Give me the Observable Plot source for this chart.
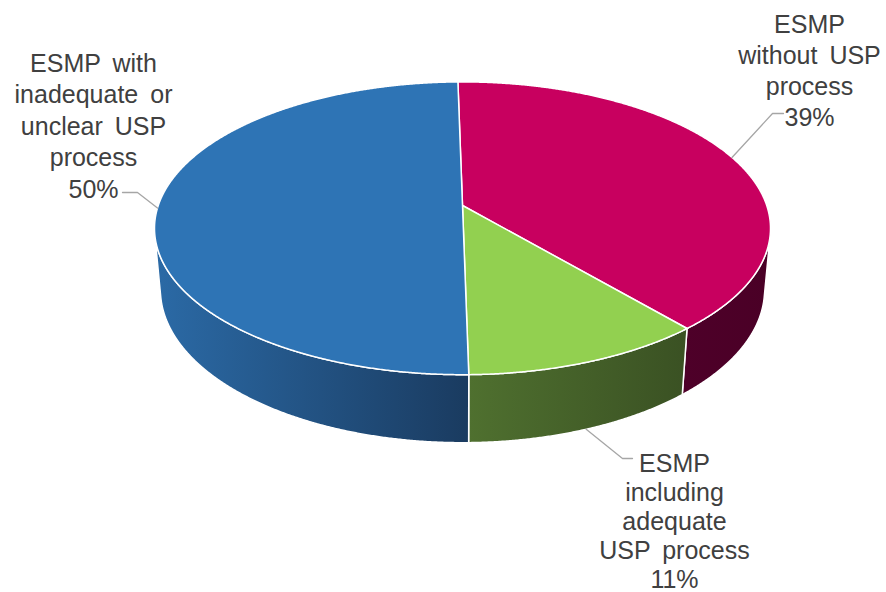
<!DOCTYPE html>
<html><head><meta charset="utf-8">
<script src="https://cdn.jsdelivr.net/npm/d3@7"></script>
<script src="https://cdn.jsdelivr.net/npm/@observablehq/plot@0.6"></script>
<style>html,body{margin:0;padding:0;background:#fff;} #chart svg{display:block} #chart text{word-spacing:5px}</style>
</head><body><div id="chart"></div>
<script>
// ---- data ----
const categories = ["ESMP without USP process", "ESMP including adequate USP process", "ESMP with inadequate or unclear USP process"];
const shares = [39, 11, 50];
const labelLines = [
  ["ESMP", "without USP", "process"],
  ["ESMP", "including", "adequate", "USP process"],
  ["ESMP with", "inadequate or", "unclear USP", "process"]
];
const topColors = ["#C8005F", "#92D050", "#2E74B5"];
const sideStops = [["#4E0029", "#4A0026"], ["#4F702F", "#3A5123"], ["#2B6AA6", "#1A3B60"]];

// ---- layout ----
const W = 886, H = 592;
const view = {cx: 462, cy: 205, f: 1725, D: 5.67, tilt: 28, depth: 0.2306, startDeg: -1};
const labelLayout = [
  {x: 809, y: 125, lh: 31, rim: "top", leader: [[783, 113], [772, 113]]},
  {x: 674, y: 587, lh: 29, rim: "bottom", leader: [[632, 458], [622, 458]]},
  {x: 93, y: 197, lh: 31.5, rim: "top", leader: [[122, 192], [137, 192]]}
];
const fontSize = 25;

const rad = Math.PI / 180;
const sT = Math.sin(view.tilt * rad), cT = Math.cos(view.tilt * rad);
function project(phi, Y) {
  const X = Math.sin(phi), Z = -Math.cos(phi);
  const d = view.D - Y * sT - Z * cT;
  const up = Y * cT - Z * sT;
  return {x: view.cx + view.f * X / d, y: view.cy - view.f * up / d};
}
const a0 = view.startDeg * rad;
const arcs = d3.pie().sort(null).value(d => d).startAngle(a0).endAngle(a0 + 2 * Math.PI)(shares);
const visA = Math.acos(-1 / (view.D * cT)), visB = 2 * Math.PI - visA;
const step = 0.25 * rad;
function sample(p0, p1) {
  const n = Math.max(2, Math.ceil((p1 - p0) / step));
  return d3.range(n + 1).map(i => p0 + (p1 - p0) * i / n);
}
const tops = arcs.map(a => {
  const centre = {x: view.cx, y: view.cy};
  const rimPts = sample(a.startAngle, a.endAngle).map(p => project(p, 0));
  return [centre, ...rimPts, centre];
});
const walls = arcs.map(a => {
  const p0 = Math.max(a.startAngle, visA), p1 = Math.min(a.endAngle, visB);
  if (p1 <= p0) return null;
  const ang = sample(p0, p1);
  const topR = ang.map(p => project(p, 0));
  const botR = ang.slice().reverse().map(p => project(p, -view.depth));
  return [...topR, ...botR, topR[0]];
});

// gradient defs
const defsMark = () => {
  const defs = d3.create("svg:defs");
  walls.forEach((w, i) => {
    if (!w) return;
    const xs = w.map(p => p.x);
    const g = defs.append("linearGradient").attr("id", "side" + i)
      .attr("gradientUnits", "userSpaceOnUse")
      .attr("x1", d3.min(xs)).attr("x2", d3.max(xs)).attr("y1", 0).attr("y2", 0);
    g.append("stop").attr("offset", "0%").attr("stop-color", sideStops[i][0]);
    g.append("stop").attr("offset", "100%").attr("stop-color", sideStops[i][1]);
  });
  return defs.node();
};

const marks = [defsMark];
walls.forEach((w, i) => {
  if (!w) return;
  marks.push(Plot.line(w, {x: "x", y: "y", fill: `url(#side${i})`, stroke: "white", strokeWidth: 1.5, strokeLinejoin: "round"}));
});
tops.forEach((t, i) => {
  marks.push(Plot.line(t, {x: "x", y: "y", fill: topColors[i], stroke: "white", strokeWidth: 1.5, strokeLinejoin: "round"}));
});
arcs.forEach((a, i) => {
  const L = labelLayout[i];
  const mid = (a.startAngle + a.endAngle) / 2;
  const end = project(mid, L.rim === "top" ? 0 : -view.depth);
  const pts = [...L.leader.map(([x, y]) => ({x, y})), end];
  marks.push(Plot.line(pts, {x: "x", y: "y", stroke: "#A6A6A6", strokeWidth: 1.3}));
  const txt = [...labelLines[i], `${shares[i]}%`].join("\n");
  marks.push(Plot.text([{x: L.x, y: L.y, t: txt}], {
    x: "x", y: "y", text: "t", lineAnchor: "bottom", lineHeight: L.lh / fontSize,
    fontSize, fill: "#404040", textAnchor: "middle", fontFamily: "Liberation Sans, Arial, sans-serif"
  }));
});

const chart = Plot.plot({
  width: W, height: H, margin: 0,
  x: {domain: [0, W], range: [0, W], axis: null},
  y: {domain: [0, H], range: [0, H], axis: null},
  style: {background: "white", fontFamily: "Liberation Sans, Arial, sans-serif"},
  marks
});
document.getElementById("chart").appendChild(chart);
</script>
</body></html>
